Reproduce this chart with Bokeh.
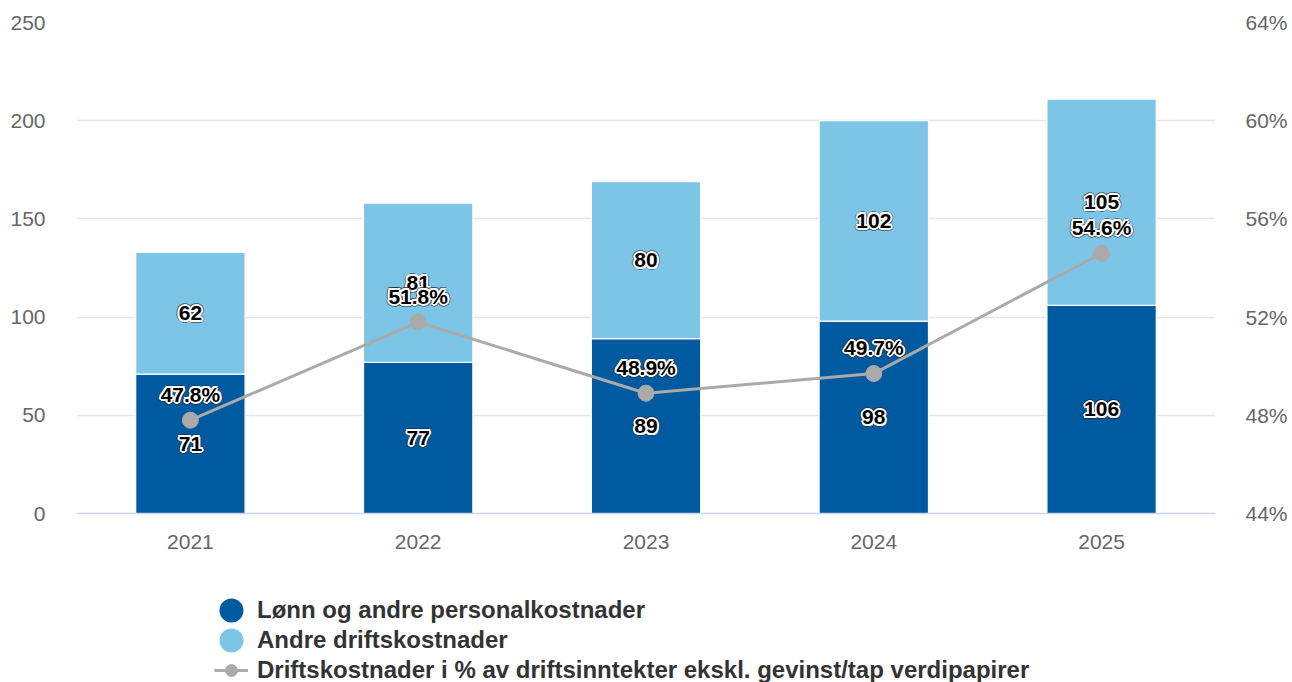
from bokeh.plotting import figure
from bokeh.layouts import column
from bokeh.models import (Range1d, LinearAxis, FactorRange, Legend, LegendItem,
                          ColumnDataSource, PrintfTickFormatter, FixedTicker)
from bokeh.core.properties import value
from bokeh.embed import file_html
from bokeh.resources import INLINE

years = ["2021", "2022", "2023", "2024", "2025"]
lonn = [71, 77, 89, 98, 106]
andre = [62, 81, 80, 102, 105]
pct = [47.8, 51.8, 48.9, 49.7, 54.6]
left_ticks = [0, 50, 100, 150, 200, 250]
right_ticks = [44, 48, 52, 56, 60, 64]
labels = ["Lønn og andre personalkostnader", "Andre driftskostnader",
          "Driftskostnader i % av driftsinntekter ekskl. gevinst/tap verdipapirer"]

FONT = "Liberation Sans"
DARK = "#005aa0"
LIGHT = "#7dc5e6"
GREY = "#aaaaaa"

src = ColumnDataSource(dict(
    year=years, lonn=lonn, andre=andre, pct=pct,
    lonn_mid=[v / 2 for v in lonn],
    andre_mid=[a + b / 2 for a, b in zip(lonn, andre)],
    lonn_txt=[str(v) for v in lonn],
    andre_txt=[str(v) for v in andre],
    pct_txt=[f"{v:.1f}%" for v in pct],
))

p = figure(x_range=FactorRange(*years, range_padding=0), y_range=Range1d(0, 250),
           width=1292, height=585, output_backend="svg", toolbar_location=None,
           min_border_left=76, min_border_right=77, min_border_top=22, min_border_bottom=72)
p.extra_y_ranges = {"pct": Range1d(44, 64)}
p.outline_line_color = None
p.background_fill_color = "white"

p.vbar_stack(["lonn", "andre"], x="year", width=0.48, color=[DARK, LIGHT], source=src,
             line_color="white", line_width=1.2)

p.line(x="year", y="pct", source=src, y_range_name="pct", line_color=GREY, line_width=3)
p.scatter(x="year", y="pct", source=src, y_range_name="pct", size=16,
          fill_color=GREY, line_color=GREY)

common = dict(text_font=value(FONT), text_font_style="bold", text_font_size="21px",
              text_align="center", text_baseline="middle")
rim = [(-3, 0), (3, 0), (0, -3), (0, 3), (-2.1, -2.1), (2.1, -2.1), (-2.1, 2.1), (2.1, 2.1)]
halo = [(-2, 0), (2, 0), (0, -2), (0, 2), (-1.4, -1.4), (1.4, -1.4), (-1.4, 1.4), (1.4, 1.4)]


def label(ycol, tcol, yoff=0, **kw):
    for dx, dy in rim:
        p.text(x="year", y=ycol, text=tcol, source=src, x_offset=dx, y_offset=yoff + dy,
               text_color="#222222", text_alpha=0.55, **common, **kw)
    for dx, dy in halo:
        p.text(x="year", y=ycol, text=tcol, source=src, x_offset=dx, y_offset=yoff + dy,
               text_color="white", **common, **kw)
    p.text(x="year", y=ycol, text=tcol, source=src, y_offset=yoff, text_color="black",
           **common, **kw)


label("lonn_mid", "lonn_txt")
label("andre_mid", "andre_txt")
label("pct", "pct_txt", yoff=-26, y_range_name="pct")

# axes
ax = p.yaxis[0]
ax.ticker = FixedTicker(ticks=left_ticks)
ax.axis_line_color = None
ax.major_tick_line_color = None
ax.minor_tick_line_color = None
ax.major_tick_out = 0
ax.major_label_standoff = 31
ax.major_label_text_font = FONT
ax.major_label_text_font_size = "21px"
ax.major_label_text_color = "#666666"

rax = LinearAxis(y_range_name="pct", ticker=FixedTicker(ticks=right_ticks),
                 formatter=PrintfTickFormatter(format="%d%%"))
rax.axis_line_color = None
rax.major_tick_line_color = None
rax.minor_tick_line_color = None
rax.major_tick_out = 0
rax.major_label_standoff = 30
rax.major_label_text_font = FONT
rax.major_label_text_font_size = "21px"
rax.major_label_text_color = "#666666"
p.add_layout(rax, "right")

xa = p.xaxis[0]
xa.axis_line_color = "#ccd6eb"
xa.axis_line_width = 1.5
xa.major_tick_line_color = None
xa.major_tick_out = 0
xa.major_label_standoff = 21
xa.major_label_text_font = FONT
xa.major_label_text_font_size = "21px"
xa.major_label_text_color = "#666666"

p.xgrid.grid_line_color = None
p.ygrid.ticker = FixedTicker(ticks=left_ticks)
p.ygrid.grid_line_color = "#e6e6e6"
p.ygrid.grid_line_width = 1.5

# legend panel: a second figure whose proxy glyphs lie outside its view
lg = figure(x_range=FactorRange(*years), y_range=Range1d(-1000, -999),
            width=1292, height=97, output_backend="svg", toolbar_location=None,
            x_axis_location=None, y_axis_location=None,
            min_border_left=0, min_border_right=0, min_border_top=0, min_border_bottom=0)
lg.outline_line_color = None
lg.grid.grid_line_color = None
e1 = lg.ellipse(x=[years[0]], y=[lonn[0]], width=1, height=1, width_units="screen",
                height_units="screen", fill_color=DARK, line_color=None)
e2 = lg.ellipse(x=[years[0]], y=[andre[0]], width=1, height=1, width_units="screen",
                height_units="screen", fill_color=LIGHT, line_color=None)
lr = lg.line(x=years, y=pct, line_color=GREY, line_width=3)
sr = lg.scatter(x=years, y=pct, size=16, fill_color=GREY, line_color=GREY)

legend = Legend(items=[LegendItem(label=labels[0], renderers=[e1]),
                       LegendItem(label=labels[1], renderers=[e2]),
                       LegendItem(label=labels[2], renderers=[lr, sr])],
                location=(138, -3), glyph_width=34, glyph_height=30, label_standoff=9,
                spacing=0, padding=0, margin=0, border_line_color=None,
                background_fill_alpha=0, label_text_font=FONT, label_text_font_style="bold",
                label_text_font_size="24px", label_text_color="#333333", label_height=30)
lg.add_layout(legend)

layout = column(p, lg, spacing=0)
open("out.html", "w").write(file_html(layout, INLINE))
